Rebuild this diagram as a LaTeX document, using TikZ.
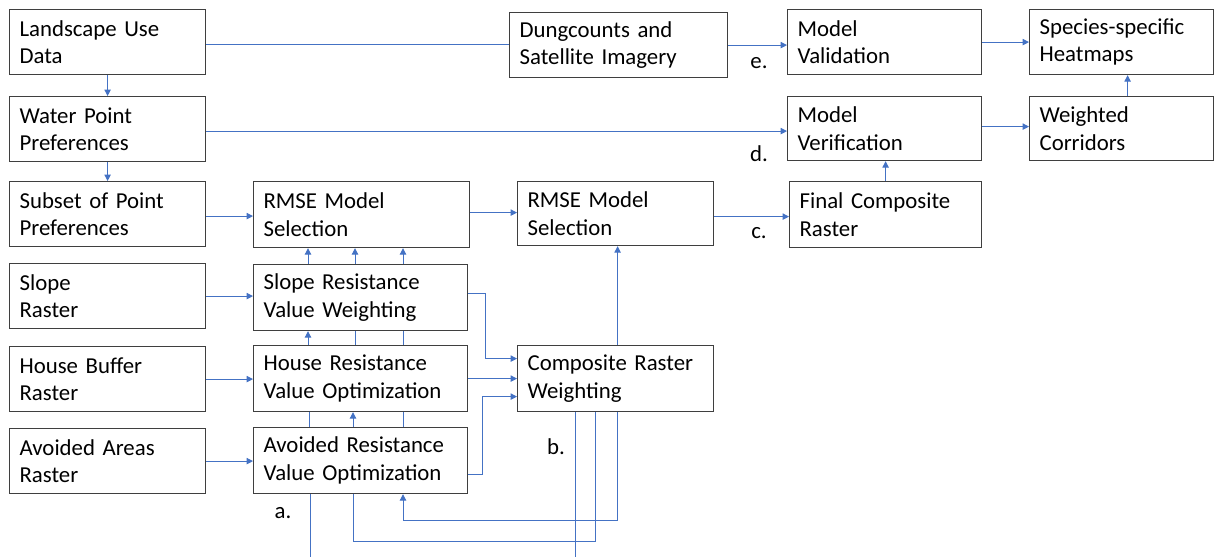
\documentclass[tikz,border=0pt]{standalone}
\usepackage{fontspec}
\setmainfont{Carlito}
\usetikzlibrary{positioning, calc, arrows.meta}
\definecolor{boxline}{HTML}{3F3F3F}
\definecolor{linkblue}{HTML}{4472C4}
\tikzset{
  blk/.style={draw=boxline, line width=0.6pt, anchor=north west, align=left,
    inner xsep=5pt, inner ysep=0pt, font=\fontsize{11.4}{13.8}\selectfont},
  link/.style={draw=linkblue, line width=0.5pt},
  arr/.style={link, -{Triangle[length=3.2pt,width=3.2pt]}},
  tag/.style={font=\fontsize{11.4}{13.8}\selectfont}
}

\begin{document}
\begin{tikzpicture}[x=0.5pt, y=-0.5pt]
  \useasboundingbox (0,0) rectangle (1215,557);

  % left column
  \node[blk, text width=88pt, minimum height=32.5pt] (land) at (9,9) {Landscape Use\\Data};
  \node[blk, text width=88pt, minimum height=32.5pt] (water) at (9,96) {Water Point\\Preferences};
  \node[blk, text width=88pt, minimum height=32.5pt] (subset) at (9,181) {Subset of Point\\Preferences};
  \node[blk, text width=88pt, minimum height=32.5pt] (sloper) at (9,263) {Slope\\Raster};
  \node[blk, text width=88pt, minimum height=32.5pt] (houser) at (9,346) {House Buffer\\Raster};
  \node[blk, text width=88pt, minimum height=32.5pt] (avoidr) at (9,428) {Avoided Areas\\Raster};

  % resistance column
  \node[blk, text width=98pt, minimum height=33pt] (rmsea) at (253,181) {RMSE Model\\Selection};
  \node[blk, text width=97pt, minimum height=33pt] (sloperes) at (253,264) {Slope Resistance\\Value Weighting};
  \node[blk, text width=97pt, minimum height=33pt] (houseres) at (253,345) {House Resistance\\Value Optimization};
  \node[blk, text width=97pt, minimum height=33pt] (avoidres) at (253,427) {Avoided Resistance\\Value Optimization};

  % composite column
  \node[blk, text width=99pt, minimum height=32.5pt] (dung) at (509,12) {Dungcounts and\\Satellite Imagery};
  \node[blk, text width=88pt, minimum height=32pt] (rmseb) at (517,181) {RMSE Model\\Selection};
  \node[blk, text width=88pt, minimum height=33pt] (comp) at (517,345) {Composite Raster\\Weighting};

  % model column
  \node[blk, text width=87pt, minimum height=32.5pt] (valid) at (787,9) {Model\\Validation};
  \node[blk, text width=87pt, minimum height=32pt] (verif) at (787,96) {Model\\Verification};
  \node[blk, text width=86pt, minimum height=33pt] (final) at (789,181) {Final Composite\\Raster};
  \node[blk, text width=82pt, minimum height=32.5pt] (heat) at (1029,9) {Species-specific\\Heatmaps};
  \node[blk, text width=82pt, minimum height=32pt] (corr) at (1029,96) {Weighted\\Corridors};

  % step letters
  \node[tag] (lbla) at (283,513) {a.};
  \node[tag] (lblb) at (556,447) {b.};
  \node[tag] (lblc) at (759,233) {c.};
  \node[tag] (lbld) at (759,154) {d.};
  \node[tag] (lble) at (759,63) {e.};

  % free ends at the bottom edge
  \coordinate (outa) at (310,557);
  \coordinate (outb) at (575,557);

  % top rows
  \draw[arr] (land) -- (water);
  \draw[arr] (water) -- (subset);
  \draw[link] ($(land.east)+(0,2)$) -- ($(land.east -| dung.west)+(0,2)$);
  \draw[arr] (dung) -- (dung -| valid.west);
  \draw[arr] ($(water.east)+(0,2)$) -- ($(water.east -| verif.west)+(0,2)$);
  \draw[arr] (valid) -- (valid -| heat.west);
  \draw[arr] ($(verif.east)+(0,-2)$) -- ($(verif.east -| corr.west)+(0,-2)$);
  \draw[arr] ($(corr.north)+(6,0)$) -- ($(heat.south)+(6,0)$);
  \draw[arr] (final.north) -- (final.north |- verif.south);

  % selection row
  \draw[arr] ($(subset.east)+(0,2)$) -- ($(subset.east -| rmsea.west)+(0,2)$);
  \draw[arr] ($(rmsea.east)+(0,-2)$) -- ($(rmsea.east -| rmseb.west)+(0,-2)$);
  \draw[arr] ($(rmseb.east)+(0,3)$) -- ($(rmseb.east -| final.west)+(0,3)$);

  % rasters into resistance boxes
  \draw[arr] (sloper) -- (sloper -| sloperes.west);
  \draw[arr] (houser) -- (houser -| houseres.west);
  \draw[arr] (avoidr) -- (avoidr -| avoidres.west);

  % links up the resistance column
  \foreach \dx in {55,102,150}
    \draw[arr] ($(sloperes.north west)+(\dx,0)$) -- ($(rmsea.south west)+(\dx,0)$);
  \draw[arr] ($(houseres.north west)+(55,0)$) -- ($(sloperes.south west)+(55,0)$);
  \foreach \dx in {102,150}
    \draw[link] ($(houseres.north west)+(\dx,0)$) -- ($(sloperes.south west)+(\dx,0)$);
  \draw[arr] ($(avoidres.north west)+(100,0)$) -- ($(houseres.south west)+(100,0)$);
  \foreach \dx in {56,150}
    \draw[link] ($(avoidres.north west)+(\dx,0)$) -- ($(houseres.south west)+(\dx,0)$);

  % resistance boxes into composite
  \draw[arr] ($(sloperes.east)+(0,-4)$) -- ++(17,0) |- ($(comp.west)+(0,-20)$);
  \draw[arr] (houseres) -- (houseres -| comp.west);
  \draw[arr] ($(avoidres.east)+(0,14)$) -- ++(14,0) |- ($(comp.west)+(0,18)$);
  \draw[arr] ($(comp.north)+(2,0)$) -- ($(rmseb.south)+(2,0)$);

  % loops below
  \draw[arr] ($(comp.south west)+(100,0)$) -- ++(0,108) -| ($(avoidres.south west)+(150,0)$);
  \draw[link] ($(avoidres.south west)+(100,0)$) -- ++(0,47) -| ($(comp.south west)+(78,0)$);
  \draw[link] ($(avoidres.south west)+(57,0)$) -- (outa);
  \draw[link] ($(comp.south west)+(58,0)$) -- (outb);
\end{tikzpicture}
\end{document}
